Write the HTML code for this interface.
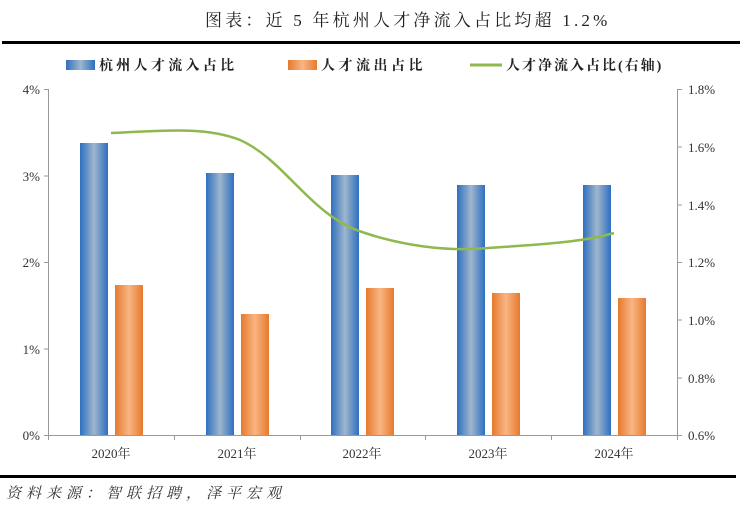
<!DOCTYPE html>
<html><head><meta charset="utf-8"><style>
body{margin:0;background:#fff;}
svg text{font-family:"Liberation Serif","Noto Serif CJK SC",serif;}
</style></head><body>
<svg width="740" height="515" viewBox="0 0 740 515" xmlns="http://www.w3.org/2000/svg">
<defs>
<linearGradient id="b" x1="0" x2="1" y1="0" y2="0"><stop offset="0" stop-color="#2e6fc0"/><stop offset="0.5" stop-color="#9fb6cc"/><stop offset="1" stop-color="#2e6fc0"/></linearGradient>
<linearGradient id="o" x1="0" x2="1" y1="0" y2="0"><stop offset="0" stop-color="#e67a2e"/><stop offset="0.5" stop-color="#f9b583"/><stop offset="1" stop-color="#e67a2e"/></linearGradient>
</defs>
<text x="205" y="26" font-size="17" letter-spacing="3.2" fill="#222">图表：近 5 年杭州人才净流入占比均超 1.2%</text>
<rect x="2" y="41" width="738" height="3" fill="#000"/>
<rect x="0" y="475" width="736" height="3" fill="#000"/>
<rect x="66" y="60" width="29" height="10" fill="url(#b)"/>
<text x="99" y="70" font-size="14" font-weight="bold" letter-spacing="3.3" fill="#222">杭州人才流入占比</text>
<rect x="288" y="60" width="29" height="10" fill="url(#o)"/>
<text x="321" y="70" font-size="14" font-weight="bold" letter-spacing="3.5" fill="#222">人才流出占比</text>
<line x1="470" y1="65" x2="502" y2="65" stroke="#8fb84e" stroke-width="3"/>
<text x="506" y="70" font-size="14" font-weight="bold" letter-spacing="2" fill="#222">人才净流入占比(右轴)</text>
<g stroke="#999" stroke-width="1" fill="none">
<line x1="48.5" y1="89" x2="48.5" y2="435"/>
<line x1="677.5" y1="89" x2="677.5" y2="435"/>
<line x1="48" y1="435.5" x2="677" y2="435.5"/>
<path d="M44 89.5H48M44 176H48M44 262.5H48M44 349H48M44 435.5H48"/>
<path d="M677 89.5H682M677 147H682M677 205H682M677 262.5H682M677 320H682M677 378H682M677 435.5H682"/>
<path d="M48.5 435v5M174.5 435v5M300.5 435v5M425.5 435v5M551.5 435v5M677.5 435v5"/>
</g>
<g font-size="13" fill="#333" text-anchor="end">
<text x="40" y="94">4%</text><text x="40" y="181">3%</text><text x="40" y="267">2%</text><text x="40" y="354">1%</text><text x="40" y="440">0%</text>
</g>
<g font-size="13" fill="#333">
<text x="688" y="94">1.8%</text><text x="688" y="152">1.6%</text><text x="688" y="210">1.4%</text><text x="688" y="267">1.2%</text><text x="688" y="325">1.0%</text><text x="688" y="383">0.8%</text><text x="688" y="440">0.6%</text>
</g>
<g>
<rect x="80" y="143" width="28" height="292" fill="url(#b)"/>
<rect x="206" y="173" width="28" height="262" fill="url(#b)"/>
<rect x="331" y="175" width="28" height="260" fill="url(#b)"/>
<rect x="457" y="185" width="28" height="250" fill="url(#b)"/>
<rect x="583" y="185" width="28" height="250" fill="url(#b)"/>
<rect x="115" y="285" width="28" height="150" fill="url(#o)"/>
<rect x="241" y="314" width="28" height="121" fill="url(#o)"/>
<rect x="366" y="288" width="28" height="147" fill="url(#o)"/>
<rect x="492" y="293" width="28" height="142" fill="url(#o)"/>
<rect x="618" y="298" width="28" height="137" fill="url(#o)"/>
</g>
<path d="M111 133 C160 131,205 126,240 140 C285 160,310 215,362 232 C400 245,445 252,488 248 C530 245,580 243,614 233" stroke="#8fb84e" stroke-width="2.5" fill="none"/>
<g font-size="13" fill="#333" text-anchor="middle">
<text x="111" y="458">2020年</text><text x="237" y="458">2021年</text><text x="362" y="458">2022年</text><text x="488" y="458">2023年</text><text x="614" y="458">2024年</text>
</g>
<text x="6" y="498" font-size="15" font-style="italic" letter-spacing="5" fill="#333">资料来源：智联招聘，泽平宏观</text>
</svg>
</body></html>
